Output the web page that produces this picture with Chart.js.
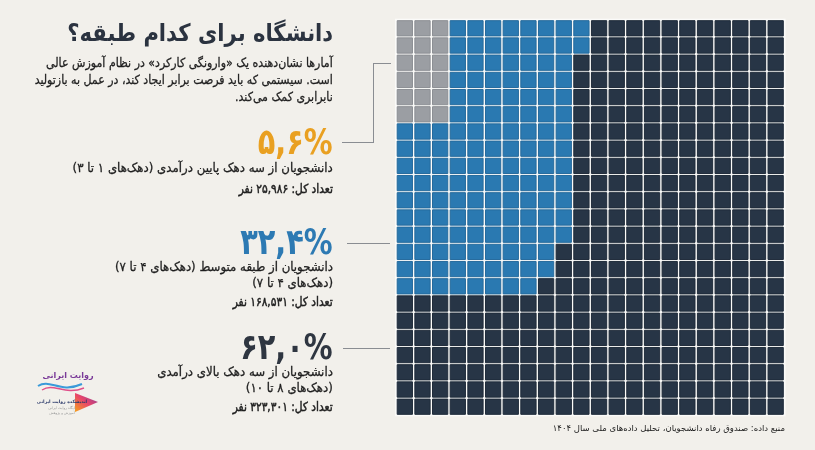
<!DOCTYPE html>
<html lang="fa">
<head>
<meta charset="utf-8">
<script src="https://cdn.jsdelivr.net/npm/chart.js@4.4.1/dist/chart.umd.min.js"></script>
<style>
html,body{margin:0;padding:0;background:#f2f0eb;}
#wrap{position:relative;width:815px;height:450px;overflow:hidden;background:#f2f0eb;font-family:"DejaVu Sans",sans-serif;}
#chart{position:absolute;left:0;top:0;}
.t{position:absolute;right:482px;direction:rtl;text-align:right;white-space:nowrap;color:#1f1f1f;}
.t > span{display:inline-block;transform-origin:right center;}
.title{font-weight:bold;font-size:24px;line-height:30px;top:18px;color:#2b3340;}
.title > span{transform:scaleX(0.88);}
.para{font-size:12.5px;line-height:17px;top:54px;-webkit-text-stroke:0.3px #1f1f1f;}
.para > span{transform:scaleX(0.88);}
.pct{font-weight:bold;font-size:36px;line-height:40px;}
.pct > span{transform:scaleX(0.8);}
.desc{font-size:12.5px;line-height:16.5px;-webkit-text-stroke:0.3px #1f1f1f;}
.desc > span{transform:scaleX(0.94);}
.tot{font-size:12.5px;line-height:17px;-webkit-text-stroke:0.5px #1f1f1f;}
.tot > span{transform:scaleX(0.85);}
.ln{position:absolute;background:#8a8d92;}
.src{position:absolute;right:30px;top:421px;font-size:8.5px;line-height:14px;direction:rtl;white-space:nowrap;color:#222;}
</style>
</head>
<body>
<div id="wrap">
<canvas id="chart" width="815" height="450"></canvas>

<div class="t title"><span id="title"></span></div>
<div class="t para"><span id="para"></span></div>

<div class="t pct" style="top:122px;color:#e9a021;"><span id="pct0"></span></div>
<div class="t desc" style="top:159.5px;"><span id="desc0"></span></div>
<div class="t tot" style="top:179.5px;"><span id="tot0"></span></div>

<div class="t pct" style="top:222px;color:#2d7ab3;"><span id="pct1"></span></div>
<div class="t desc" style="top:258.5px;"><span id="desc1"></span></div>
<div class="t tot" style="top:293px;"><span id="tot1"></span></div>

<div class="t pct" style="top:327px;color:#2f3641;"><span id="pct2"></span></div>
<div class="t desc" style="top:363.5px;"><span id="desc2"></span></div>
<div class="t tot" style="top:398px;"><span id="tot2"></span></div>

<div class="ln" style="left:373px;top:62.5px;width:18px;height:1.2px;"></div>
<div class="ln" style="left:372.5px;top:62.5px;width:1.2px;height:80px;"></div>
<div class="ln" style="left:342px;top:141.5px;width:31.5px;height:1.2px;"></div>
<div class="ln" style="left:347px;top:242.5px;width:43px;height:1.2px;"></div>
<div class="ln" style="left:343px;top:347.5px;width:47px;height:1.2px;"></div>

<div class="src" id="src"></div>

<svg style="position:absolute;left:34px;top:366px;" width="72" height="52" viewBox="0 0 72 52">
  <defs>
    <linearGradient id="tri" x1="0" y1="1" x2="1" y2="0">
      <stop offset="0" stop-color="#f7a21b"/>
      <stop offset="0.5" stop-color="#e8456b"/>
      <stop offset="1" stop-color="#7b3fa0"/>
    </linearGradient>
  </defs>
  <path d="M4 20 C16 12, 26 28, 48 18" stroke="#3a9ad9" stroke-width="2" fill="none"/>
  <path d="M8 24 C20 16, 30 30, 50 22" stroke="#e0508a" stroke-width="1.5" fill="none"/>
  <path d="M41 27 L64 36 L41 46 Z" fill="url(#tri)"/>
  <text x="34" y="12" font-size="8" font-weight="bold" fill="#7a3a98" text-anchor="middle" font-family="DejaVu Sans" direction="rtl">روایت ایرانی</text>
  <text x="28" y="37" font-size="4.5" font-weight="bold" fill="#2b3a6a" text-anchor="middle" font-family="DejaVu Sans" direction="rtl">اندیشکده روایت ایرانی</text>
  <text x="28" y="43" font-size="3.5" fill="#999" text-anchor="middle" font-family="DejaVu Sans" direction="rtl">پایگاه روایت ایرانی</text>
  <text x="28" y="48" font-size="3.5" fill="#999" text-anchor="middle" font-family="DejaVu Sans" direction="rtl">آموزش و پژوهش</text>
</svg>
</div>

<script>
// ---- data ----
const GRID_COLS = 22;
const GRID_ROWS = 23;
const segmentNames = ['سه دهک پایین', 'طبقه متوسط', 'سه دهک بالا'];
const percentLabels = ['۵,۶%', '۳۲,۴%', '۶۲,۰%'];
const percentValues = [5.6, 32.4, 62.0];
const totalLabels = ['تعداد کل: ۲۵,۹۸۶ نفر', 'تعداد کل: ۱۶۸,۵۳۱ نفر', 'تعداد کل: ۳۲۳,۳۰۱ نفر'];
const studentTotals = [25986, 168531, 323301];
const descLines = [
  ['دانشجویان از سه دهک پایین درآمدی (دهک‌های ۱ تا ۳)'],
  ['دانشجویان از طبقه متوسط (دهک‌های ۴ تا ۷)', '(دهک‌های ۴ تا ۷)'],
  ['دانشجویان از سه دهک بالای درآمدی', '(دهک‌های ۸ تا ۱۰)']
];
const titleText = 'دانشگاه برای کدام طبقه؟';
const paraLines = [
  'آمارها نشان‌دهنده یک «وارونگی کارکرد» در نظام آموزش عالی',
  'است. سیستمی که باید فرصت برابر ایجاد کند، در عمل به بازتولید',
  'نابرابری کمک می‌کند.'
];
const sourceText = 'منبع داده: صندوق رفاه دانشجویان، تحلیل داده‌های ملی سال ۱۴۰۴';
// cells per grid row (top to bottom), filled left to right
const lowCellsPerRow  = [3,3,3,3,3,3,0,0,0,0,0,0,0,0,0,0,0,0,0,0,0,0,0];
const midCellsPerRow  = [8,8,7,7,7,7,10,10,10,10,10,10,10,9,9,8,0,0,0,0,0,0,0];

// ---- text ----
document.getElementById('title').textContent = titleText;
document.getElementById('para').innerHTML = paraLines.join('<br>');
for (let i = 0; i < 3; i++) {
  document.getElementById('pct' + i).textContent = percentLabels[i];
  document.getElementById('desc' + i).innerHTML = descLines[i].join('<br>');
  document.getElementById('tot' + i).textContent = totalLabels[i];
}
document.getElementById('src').textContent = sourceText;

// ---- build cells ----
const lowPts = [], midPts = [], highPts = [];
for (let r = 0; r < GRID_ROWS; r++) {
  for (let c = 0; c < GRID_COLS; c++) {
    const p = {x: c, y: r};
    if (c < lowCellsPerRow[r]) lowPts.push(p);
    else if (c < lowCellsPerRow[r] + midCellsPerRow[r]) midPts.push(p);
    else highPts.push(p);
  }
}

const backing = {
  id: 'backing',
  beforeDatasetsDraw(chart) {
    const a = chart.chartArea, ctx = chart.ctx;
    ctx.save();
    ctx.fillStyle = '#fbfbf9';
    ctx.fillRect(a.left - 1, a.top - 1, a.right - a.left + 2, a.bottom - a.top + 2);
    ctx.restore();
  }
};

new Chart(document.getElementById('chart'), {
  type: 'scatter',
  data: {
    datasets: [
      {label: segmentNames[0], data: lowPts, backgroundColor: '#9b9ea3', borderColor: '#8c8f94'},
      {label: segmentNames[1], data: midPts, backgroundColor: '#2a79b1', borderColor: '#256a9c'},
      {label: segmentNames[2], data: highPts, backgroundColor: '#273546', borderColor: '#1f2b3a'}
    ]
  },
  options: {
    responsive: false,
    animation: false,
    layout: {padding: {left: 396, right: 30.5, top: 19.7, bottom: 34.7}},
    scales: {
      x: {type: 'linear', min: -0.5, max: GRID_COLS - 0.5, display: false},
      y: {type: 'linear', min: -0.5, max: GRID_ROWS - 0.5, reverse: true, display: false}
    },
    elements: {point: {pointStyle: 'rect', radius: 10.8, hoverRadius: 10.8, borderWidth: 1, hoverBorderWidth: 1}},
    plugins: {legend: {display: false}, tooltip: {enabled: false}}
  },
  plugins: [backing]
});
</script>
</body>
</html>
